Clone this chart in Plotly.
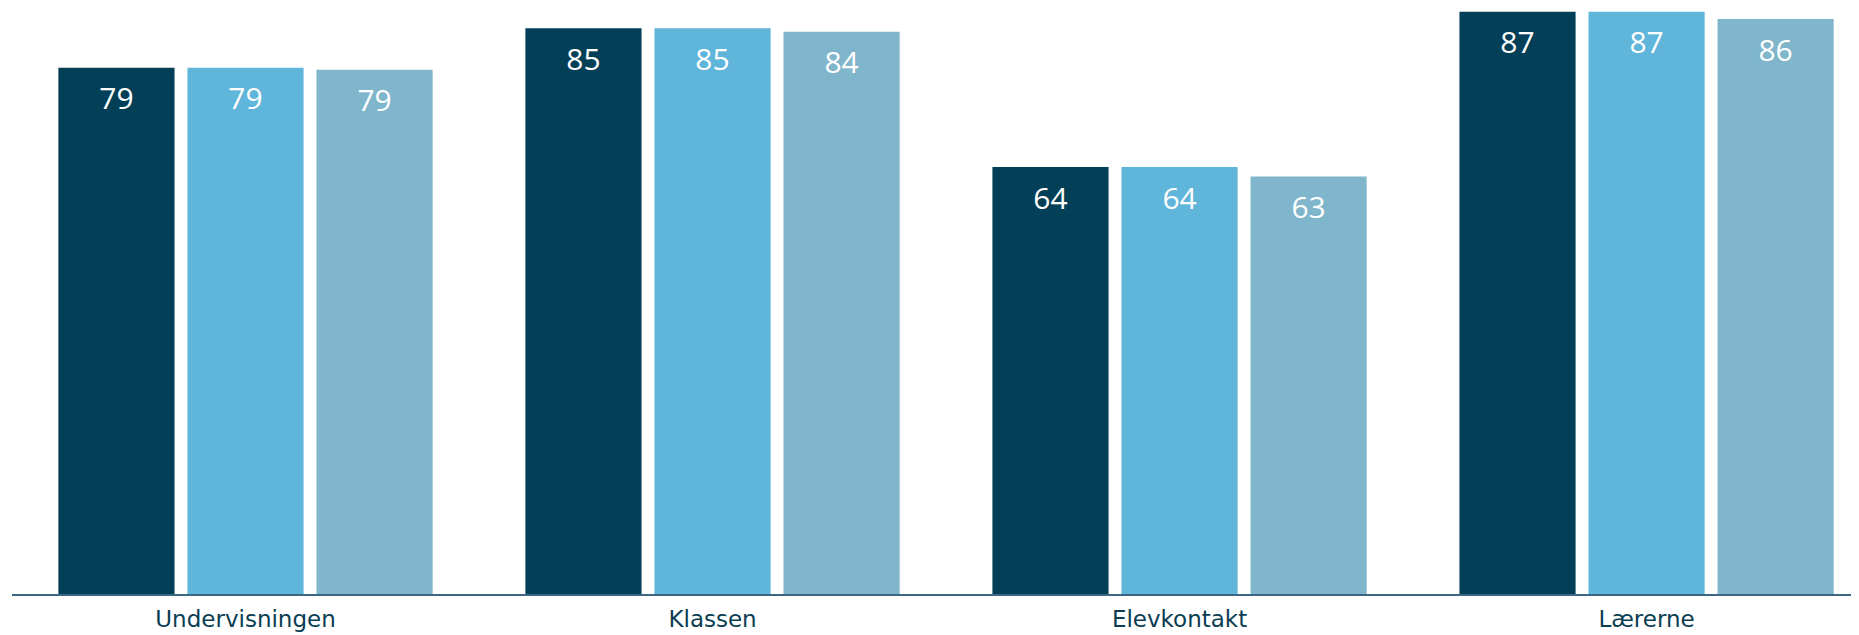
import plotly.graph_objects as go

categories = ["Undervisningen", "Klassen", "Elevkontakt", "Lærerne"]
series_names = ["Serie 1", "Serie 2", "Serie 3"]
values_1 = [78.9, 84.8, 64.0, 87.3]
values_2 = [78.9, 84.8, 64.0, 87.3]
values_3 = [78.6, 84.3, 62.6, 86.2]
colors = ["#033f57", "#5fb5da", "#80b6cb"]

fig = go.Figure()
for i, (name, vals, col) in enumerate(zip(series_names, [values_1, values_2, values_3], colors)):
    fig.add_trace(go.Bar(
        x=categories, y=vals, name=name,
        marker=dict(color=col, line=dict(width=0)),
        offsetgroup=str(i), alignmentgroup="g",
    ))
for i, (name, vals) in enumerate(zip(series_names, [values_1, values_2, values_3])):
    fig.add_trace(go.Scatter(
        x=categories, y=vals, name=name, mode="markers+text",
        marker=dict(size=29, color="rgba(0,0,0,0)", line=dict(width=0)),
        text=[f"{v:.0f}" for v in vals], textposition="bottom center",
        textfont=dict(family="Open Sans", size=30, color="white"),
        offsetgroup=str(i), alignmentgroup="g", hoverinfo="skip",
        cliponaxis=False,
    ))

fig.update_layout(
    width=1859, height=635,
    barmode="group", bargap=0.171, bargroupgap=0.1,
    scattermode="group", scattergap=0.171,
    showlegend=False,
    plot_bgcolor="white", paper_bgcolor="white",
    margin=dict(l=4, r=0, t=0, b=49),
    xaxis=dict(
        range=[-0.5, 3.472], showline=True, linecolor="#3d6683", linewidth=1.5,
        ticks="", showgrid=False, ticklabelstandoff=4,
        tickfont=dict(family="DejaVu Sans", size=23, color="#0b3d53"),
    ),
    yaxis=dict(range=[0, 87.85], visible=False, showgrid=False, zeroline=False),
)

fig.write_html("out.html")
